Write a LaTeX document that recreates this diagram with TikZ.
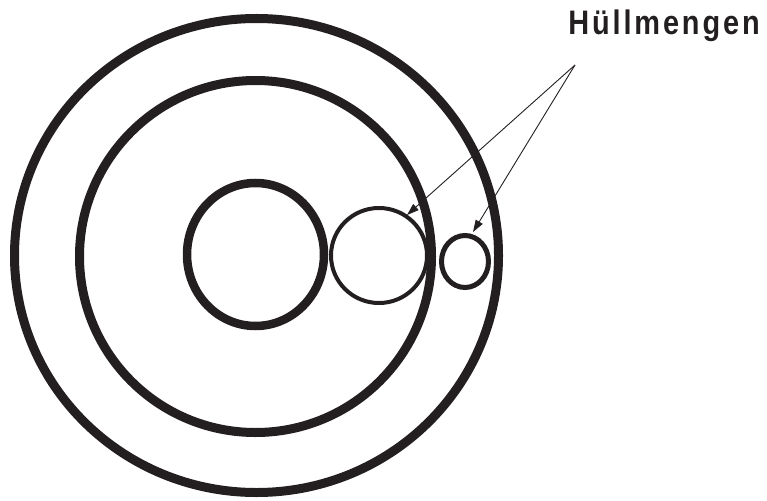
\documentclass[tikz,border=0pt]{standalone}
\usepackage{fontspec}
\setmainfont{Liberation Sans}
\newfontfamily\labelfont[LetterSpace=10]{Liberation Sans}
\usetikzlibrary{arrows.meta,shapes.geometric}
\definecolor{ink}{HTML}{231F20}
\tikzset{
  ring/.style={draw=ink, ellipse, inner sep=0pt, outer sep=0pt},
  pointer/.style={draw=ink, line width=0.9pt, -{Triangle[length=12pt,width=8pt]}},
}
\begin{document}
\begin{tikzpicture}[x=1pt,y=-1pt]
\useasboundingbox (0,0) rectangle (767,500);
\node[ring, line width=9pt, minimum width=484pt, minimum height=474pt] (outer) at (256.5,255.5) {};
\node[ring, line width=9pt, minimum width=352pt, minimum height=352pt] (middle) at (255.5,256.5) {};
\node[ring, line width=8.5pt, minimum width=137pt, minimum height=143pt] (inner) at (255.5,254.5) {};
\node[ring, line width=4pt, minimum width=96pt, minimum height=95pt] (hullA) at (379,255.5) {};
\node[ring, line width=5pt, minimum width=47pt, minimum height=52pt] (hullB) at (465,261.5) {};
\node[text=ink, font=\labelfont\bfseries\fontsize{34}{40}\selectfont, xscale=0.85, anchor=base, inner sep=0pt] (label) at (664,35) {Hüllmengen};
\coordinate (apex) at (575,65);
\coordinate (tipA) at (407,215);
\coordinate (tipB) at (473,232);
\draw[pointer] (apex) -- (tipA);
\draw[pointer] (apex) -- (tipB);
\end{tikzpicture}
\end{document}
